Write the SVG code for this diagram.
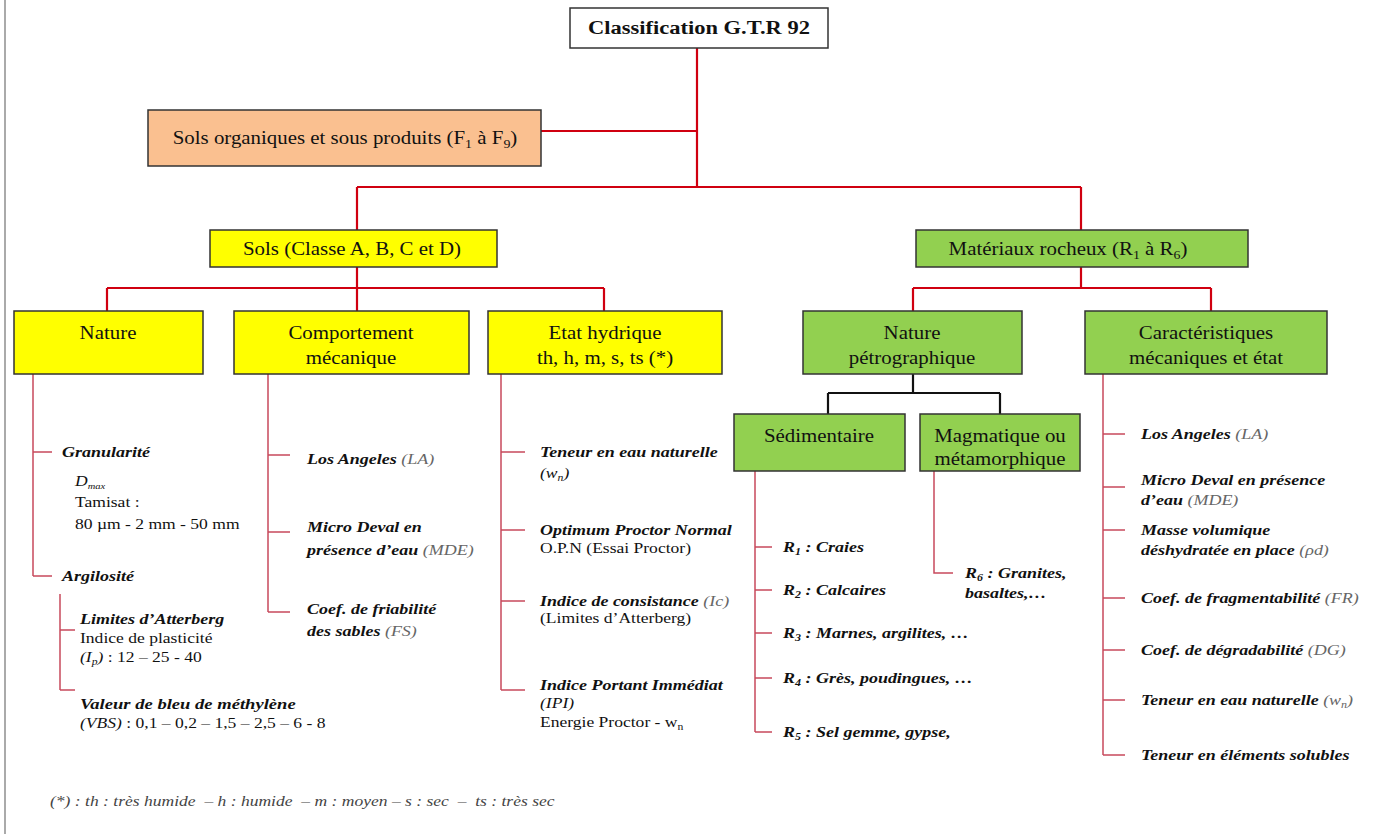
<svg xmlns="http://www.w3.org/2000/svg" width="1375" height="834" viewBox="0 0 1375 834">
<style>
text{font-family:"Liberation Serif","Times New Roman",serif;fill:#111}
.bx{stroke:#333;stroke-width:1.5}
.y{fill:#FFFF00}.g{fill:#92D050}.o{fill:#FAC090}.w{fill:#fff}
.t{font-size:18px;text-anchor:middle}
.main{fill:none;stroke:#D00010;stroke-width:2.2}
.thin{fill:none;stroke:#C84A5C;stroke-width:1.5}
.blk{fill:none;stroke:#111;stroke-width:2.2}
.bi{font-size:15px;font-weight:bold;font-style:italic}
.r{font-size:15px}
.gr{font-weight:normal;font-style:italic;fill:#666}
.ft{font-size:15px;font-style:italic;fill:#444}
</style>
<line x1="5" y1="0" x2="5" y2="834" stroke="#aaa" stroke-width="2"/>
<g id="connectors">
<path class="main" d="M697 48V187M541 131H697M357 187H1081M357 187V230M1081 187V230"/>
<path class="main" d="M357 267V288M107 288H604M107 288V311M357 288V311M604 288V311"/>
<path class="main" d="M1081 267V288M913 288H1211M913 288V311M1211 288V311"/>
<path class="blk" d="M913 374V393M828 393H1000M828 393V414M1000 393V414"/>
<path class="thin" d="M33 374V576M33 452H52M33 576H52"/>
<path class="thin" d="M60 594V690M60 630H75M60 690H75"/>
<path class="thin" d="M268 374V612M268 455H290M268 532H290M268 612H290"/>
<path class="thin" d="M501 374V690M501 452H525M501 530H525M501 601H525M501 690H525"/>
<path class="thin" d="M755 471V732M755 547H772M755 590H772M755 633H772M755 678H772M755 732H772"/>
<path class="thin" d="M934 471V573H953"/>
<path class="thin" d="M1103 374V755M1103 434H1125M1103 487H1125M1103 530H1125M1103 598H1125M1103 650H1125M1103 700H1125M1103 755H1125"/>
</g>
<g id="title"><rect class="bx w" x="570" y="8" width="258" height="40"/><text class="t" transform="matrix(1.25 0 0 1 699 0)" y="34" font-weight="bold">Classification G.T.R 92</text></g>
<g id="organiques"><rect class="bx o" x="148" y="110" width="393" height="56"/><text class="t" transform="matrix(1.16 0 0 1 345 0)" y="144">Sols organiques et sous produits (F<tspan font-size="12" dy="4">1</tspan><tspan dy="-4"> à F</tspan><tspan font-size="12" dy="4">9</tspan><tspan dy="-4">)</tspan></text></g>
<g id="sols"><rect class="bx y" x="210" y="230" width="287" height="37"/><text class="t" transform="matrix(1.16 0 0 1 352 0)" y="255">Sols (Classe A, B, C et D)</text></g>
<g id="materiaux"><rect class="bx g" x="916" y="230" width="332" height="37"/><text class="t" transform="matrix(1.16 0 0 1 1068 0)" y="255">Matériaux rocheux (R<tspan font-size="12" dy="4">1</tspan><tspan dy="-4"> à R</tspan><tspan font-size="12" dy="4">6</tspan><tspan dy="-4">)</tspan></text></g>
<g id="nature"><rect class="bx y" x="14" y="311" width="189" height="63"/><text class="t" transform="matrix(1.16 0 0 1 108 0)" y="339">Nature</text></g>
<g id="comportement"><rect class="bx y" x="234" y="311" width="235" height="63"/><text class="t" transform="matrix(1.16 0 0 1 351 0)" y="339">Comportement</text><text class="t" transform="matrix(1.16 0 0 1 351 0)" y="364">mécanique</text></g>
<g id="etat"><rect class="bx y" x="488" y="311" width="234" height="63"/><text class="t" transform="matrix(1.16 0 0 1 605 0)" y="339">Etat hydrique</text><text class="t" transform="matrix(1.16 0 0 1 605 0)" y="364">th, h, m, s, ts (*)</text></g>
<g id="petro"><rect class="bx g" x="803" y="311" width="219" height="63"/><text class="t" transform="matrix(1.16 0 0 1 912 0)" y="339">Nature</text><text class="t" transform="matrix(1.16 0 0 1 912 0)" y="364">pétrographique</text></g>
<g id="caract"><rect class="bx g" x="1085" y="311" width="242" height="63"/><text class="t" transform="matrix(1.16 0 0 1 1206 0)" y="339">Caractéristiques</text><text class="t" transform="matrix(1.16 0 0 1 1206 0)" y="364">mécaniques et état</text></g>
<g id="sedim"><rect class="bx g" x="734" y="414" width="171" height="57"/><text class="t" transform="matrix(1.16 0 0 1 819 0)" y="442">Sédimentaire</text></g>
<g id="magma"><rect class="bx g" x="920" y="414" width="160" height="57"/><text class="t" transform="matrix(1.16 0 0 1 1000 0)" y="442">Magmatique ou</text><text class="t" transform="matrix(1.16 0 0 1 1000 0)" y="465">métamorphique</text></g>
<g id="nature-items">
<text class="bi" transform="matrix(1.2 0 0 1 62 0)" y="457">Granularité</text>
<text class="r" transform="matrix(1.17 0 0 1 75 0)" y="486" font-style="italic">D<tspan font-size="9" dy="3">max</tspan></text>
<text class="r" transform="matrix(1.17 0 0 1 75 0)" y="507">Tamisat :</text>
<text class="r" transform="matrix(1.17 0 0 1 75 0)" y="529">80 µm - 2 mm - 50 mm</text>
<text class="bi" transform="matrix(1.2 0 0 1 62 0)" y="581">Argilosité</text>
<text class="bi" transform="matrix(1.2 0 0 1 80 0)" y="624">Limites d’Atterberg</text>
<text class="r" transform="matrix(1.17 0 0 1 80 0)" y="643">Indice de plasticité</text>
<text class="r" transform="matrix(1.17 0 0 1 80 0)" y="662"><tspan font-style="italic">(I<tspan font-size="10" dy="3">p</tspan><tspan dy="-3">)</tspan></tspan> : 12 – 25 - 40</text>
<text class="bi" transform="matrix(1.24 0 0 1 80 0)" y="709">Valeur de bleu de méthylène</text>
<text class="r" transform="matrix(1.17 0 0 1 80 0)" y="728"><tspan font-style="italic">(VBS)</tspan> : 0,1 – 0,2 – 1,5 – 2,5 – 6 - 8</text>
</g>
<g id="comportement-items">
<text class="bi" transform="matrix(1.2 0 0 1 307 0)" y="464">Los Angeles <tspan class="gr">(LA)</tspan></text>
<text class="bi" transform="matrix(1.2 0 0 1 307 0)" y="532">Micro Deval en</text>
<text class="bi" transform="matrix(1.2 0 0 1 307 0)" y="555">présence d’eau <tspan class="gr">(MDE)</tspan></text>
<text class="bi" transform="matrix(1.2 0 0 1 307 0)" y="614">Coef. de friabilité</text>
<text class="bi" transform="matrix(1.2 0 0 1 307 0)" y="636">des sables <tspan class="gr">(FS)</tspan></text>
</g>
<g id="etat-items">
<text class="bi" transform="matrix(1.2 0 0 1 540 0)" y="457">Teneur en eau naturelle</text>
<text class="r" transform="matrix(1.17 0 0 1 540 0)" y="478" font-style="italic">(w<tspan font-size="10" dy="3">n</tspan><tspan dy="-3">)</tspan></text>
<text class="bi" transform="matrix(1.2 0 0 1 540 0)" y="535">Optimum Proctor Normal</text>
<text class="r" transform="matrix(1.17 0 0 1 540 0)" y="553">O.P.N (Essai Proctor)</text>
<text class="bi" transform="matrix(1.2 0 0 1 540 0)" y="606">Indice de consistance <tspan class="gr">(Ic)</tspan></text>
<text class="r" transform="matrix(1.17 0 0 1 540 0)" y="623">(Limites d’Atterberg)</text>
<text class="bi" transform="matrix(1.2 0 0 1 540 0)" y="690">Indice Portant Immédiat</text>
<text class="r" transform="matrix(1.17 0 0 1 540 0)" y="708" font-style="italic">(IPI)</text>
<text class="r" transform="matrix(1.17 0 0 1 540 0)" y="727">Energie Proctor - w<tspan font-size="10" dy="3">n</tspan></text>
</g>
<g id="sedim-items">
<text class="bi" transform="matrix(1.2 0 0 1 783 0)" y="552">R<tspan font-size="10" dy="3">1</tspan><tspan dy="-3"> : Craies</tspan></text>
<text class="bi" transform="matrix(1.2 0 0 1 783 0)" y="595">R<tspan font-size="10" dy="3">2</tspan><tspan dy="-3"> : Calcaires</tspan></text>
<text class="bi" transform="matrix(1.2 0 0 1 783 0)" y="638">R<tspan font-size="10" dy="3">3</tspan><tspan dy="-3"> : Marnes, argilites, …</tspan></text>
<text class="bi" transform="matrix(1.2 0 0 1 783 0)" y="683">R<tspan font-size="10" dy="3">4</tspan><tspan dy="-3"> : Grès, poudingues, …</tspan></text>
<text class="bi" transform="matrix(1.2 0 0 1 783 0)" y="737">R<tspan font-size="10" dy="3">5</tspan><tspan dy="-3"> : Sel gemme, gypse,</tspan></text>
</g>
<g id="magma-items">
<text class="bi" transform="matrix(1.2 0 0 1 965 0)" y="578">R<tspan font-size="10" dy="3">6</tspan><tspan dy="-3"> : Granites,</tspan></text>
<text class="bi" transform="matrix(1.2 0 0 1 965 0)" y="598">basaltes,…</text>
</g>
<g id="caract-items">
<text class="bi" transform="matrix(1.2 0 0 1 1141 0)" y="439">Los Angeles <tspan class="gr">(LA)</tspan></text>
<text class="bi" transform="matrix(1.2 0 0 1 1141 0)" y="485">Micro Deval en présence</text>
<text class="bi" transform="matrix(1.2 0 0 1 1141 0)" y="505">d’eau <tspan class="gr">(MDE)</tspan></text>
<text class="bi" transform="matrix(1.2 0 0 1 1141 0)" y="535">Masse volumique</text>
<text class="bi" transform="matrix(1.2 0 0 1 1141 0)" y="555">déshydratée en place <tspan class="gr">(ρd)</tspan></text>
<text class="bi" transform="matrix(1.2 0 0 1 1141 0)" y="603">Coef. de fragmentabilité <tspan class="gr">(FR)</tspan></text>
<text class="bi" transform="matrix(1.2 0 0 1 1141 0)" y="655">Coef. de dégradabilité <tspan class="gr">(DG)</tspan></text>
<text class="bi" transform="matrix(1.2 0 0 1 1141 0)" y="705">Teneur en eau naturelle <tspan class="gr">(w<tspan font-size="10" dy="3">n</tspan><tspan dy="-3">)</tspan></tspan></text>
<text class="bi" transform="matrix(1.2 0 0 1 1141 0)" y="760">Teneur en éléments solubles</text>
</g>
<text class="ft" xml:space="preserve" transform="matrix(1.17 0 0 1 50 0)" y="806">(*) : th : très humide  – h : humide  – m : moyen – s : sec  –  ts : très sec</text>
</svg>
